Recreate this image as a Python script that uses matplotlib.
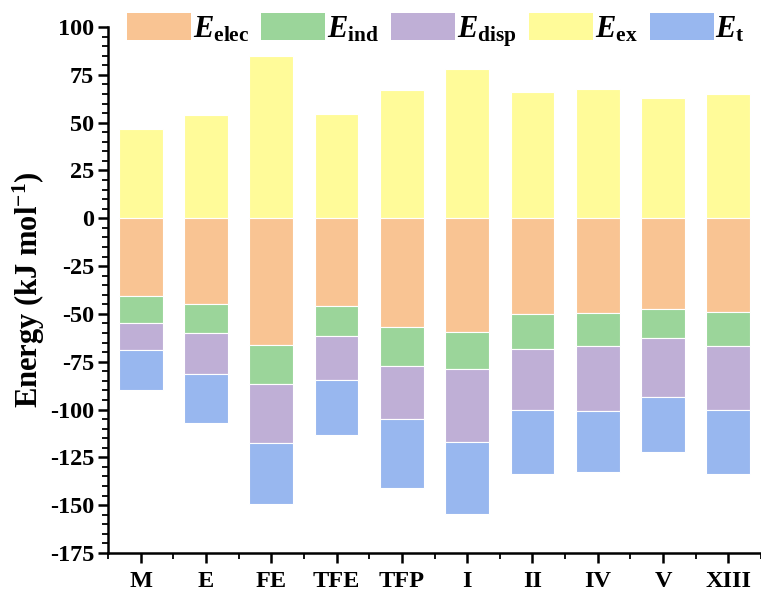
import matplotlib
matplotlib.use("Agg")
import matplotlib.pyplot as plt
from matplotlib.patches import Patch
from matplotlib.ticker import MultipleLocator, FixedLocator
import numpy as np

plt.rcParams['font.family'] = ['Liberation Serif', 'DejaVu Serif']
plt.rcParams['font.weight'] = 'bold'
plt.rcParams['axes.unicode_minus'] = False
plt.rcParams['mathtext.fontset'] = 'custom'
plt.rcParams['mathtext.rm'] = 'Liberation Serif:bold'
plt.rcParams['mathtext.it'] = 'Liberation Serif:italic:bold'
plt.rcParams['mathtext.bf'] = 'Liberation Serif:bold'
plt.rcParams['mathtext.default'] = 'bf'

categories = ["M", "E", "FE", "TFE", "TFP", "I", "II", "IV", "V", "XIII"]
E_ex = [46.6, 53.9, 84.8, 54.5, 67.0, 77.8, 65.8, 67.4, 62.7, 64.9]
E_elec = [-40.6, -44.7, -66.3, -45.7, -56.9, -59.2, -50.1, -49.6, -47.5, -49.2]
E_ind = [-14.0, -15.3, -20.6, -15.6, -20.2, -19.7, -18.0, -17.2, -15.3, -17.6]
E_disp = [-14.2, -21.2, -30.5, -23.2, -27.8, -38.2, -32.3, -34.1, -30.4, -33.2]
E_t = [-21.2, -25.8, -32.0, -28.9, -36.3, -37.5, -33.1, -31.7, -29.1, -33.5]

colors = {
    'elec': '#F9C493',
    'ind': '#9BD59A',
    'disp': '#BFAFD6',
    'ex': '#FFFB99',
    't': '#98B7EF',
}

fig = plt.figure(figsize=(7.61, 5.96), dpi=100)
ax = fig.add_axes([108/761, 1-553/596, 1-108/761, (553-27)/596])

x = np.arange(len(categories))
w = 0.67
kw = dict(width=w, edgecolor='white', linewidth=0.8)
ax.bar(x, E_ex, color=colors['ex'], **kw)
b1 = np.array(E_elec)
ax.bar(x, E_elec, color=colors['elec'], **kw)
b2 = b1 + np.array(E_ind)
ax.bar(x, E_ind, bottom=b1, color=colors['ind'], **kw)
b3 = b2 + np.array(E_disp)
ax.bar(x, E_disp, bottom=b2, color=colors['disp'], **kw)
ax.bar(x, E_t, bottom=b3, color=colors['t'], **kw)

ax.set_xlim(-0.5, 9.5)
ax.set_ylim(-175, 100)
ax.yaxis.set_major_locator(MultipleLocator(25))
ax.yaxis.set_minor_locator(MultipleLocator(5))
ax.set_xticks(x)
ax.set_xticklabels(categories)
ax.xaxis.set_minor_locator(FixedLocator(np.arange(-0.5, 9.6, 1.0)))

for s in ['top', 'right']:
    ax.spines[s].set_visible(False)
for s in ['left', 'bottom']:
    ax.spines[s].set_linewidth(1.8)

ax.tick_params(axis='both', which='major', direction='out', length=7, width=1.8, labelsize=17.5)
ax.tick_params(axis='both', which='minor', direction='out', length=4, width=1.3)
ax.tick_params(axis='x', which='major', pad=6)
ax.tick_params(axis='y', which='major', pad=3)

ax.set_ylabel(r'Energy (kJ mol$^{-1}$)', fontsize=22, fontweight='bold', labelpad=2)

handles = [Patch(facecolor=colors[k], edgecolor='none') for k in ['elec', 'ind', 'disp', 'ex', 't']]
labels = [r'$\mathit{E}_{\mathbf{elec}}$', r'$\mathit{E}_{\mathbf{ind}}$', r'$\mathit{E}_{\mathbf{disp}}$',
          r'$\mathit{E}_{\mathbf{ex}}$', r'$\mathit{E}_{\mathbf{t}}$']
fig.legend(handles, labels, loc='upper left', bbox_to_anchor=(127/761, 1-13/596),
           ncol=5, frameon=False, fontsize=22, handlelength=2.1, handleheight=1.0,
           handletextpad=0.05, columnspacing=0.4, borderpad=0, borderaxespad=0)

fig.savefig('out.png', dpi=100)
